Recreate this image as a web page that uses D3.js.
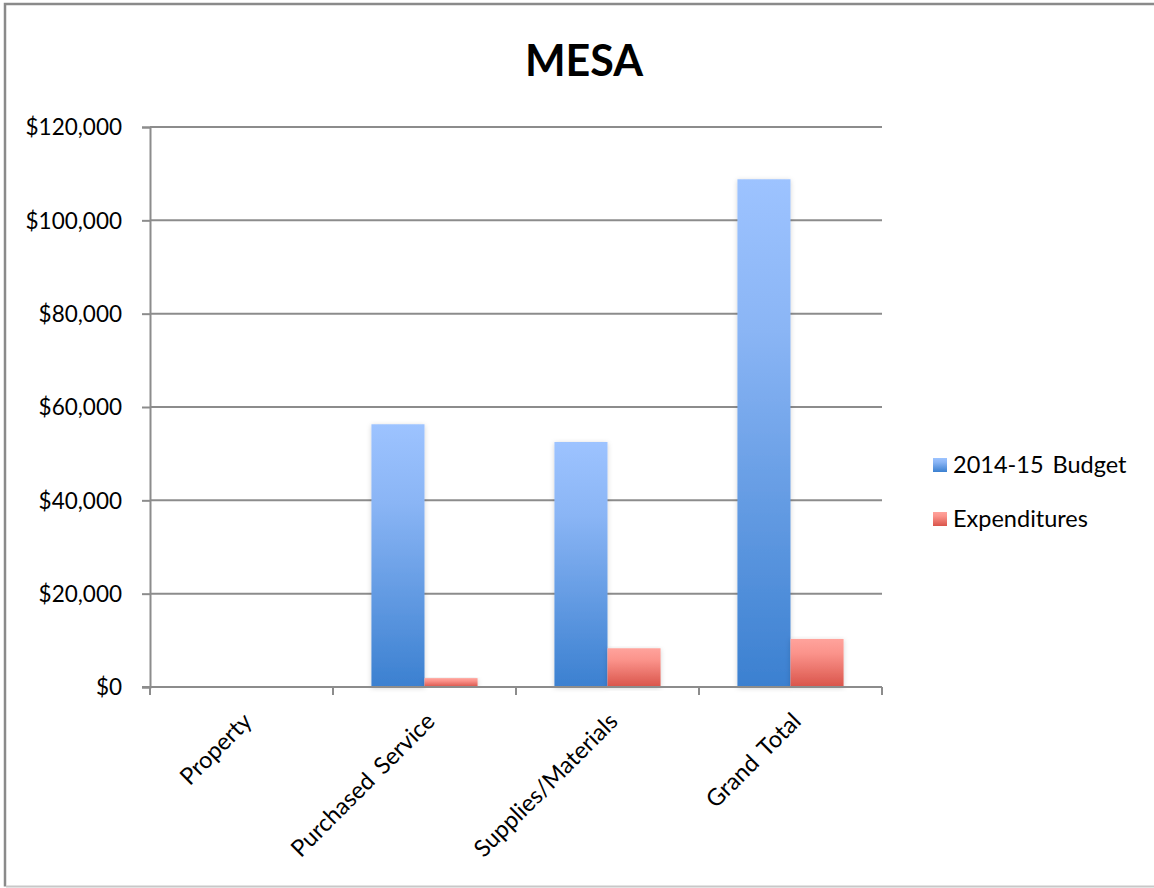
<!DOCTYPE html>
<html>
<head>
<meta charset="utf-8">
<script src="https://cdn.jsdelivr.net/npm/d3@7"></script>
<style>
  body { margin: 0; background: #fff; }
  svg text { font-family: Lato, "Open Sans", sans-serif; fill: #000; }
</style>
</head>
<body>
<div id="chart"></div>
<script>
// Chart data
const categories = ["Property", "Purchased Service", "Supplies/Materials", "Grand Total"];
const seriesNames = ["2014-15 Budget", "Expenditures"];
const budgetValues = [0, 56300, 52500, 108800];
const expenditureValues = [0, 1900, 8300, 10300];
const yTicks = [0, 20000, 40000, 60000, 80000, 100000, 120000];

const width = 1154, height = 888;
const margin = { left: 150, right: 272, top: 127, bottom: 201 };
const plotW = width - margin.left - margin.right;
const plotH = height - margin.top - margin.bottom;

const svg = d3.select("#chart").append("svg")
    .attr("width", width)
    .attr("height", height);

// Gradients for the bars (light top, darker bottom)
const defs = svg.append("defs");
const gradStops = [
    { id: "grad-budget", top: "#9dc3ff", mid: "#8ab5f5", bottom: "#3b80d0" },
    { id: "grad-exp", top: "#ffa39c", mid: "#fb938b", bottom: "#d9544a" }
];
gradStops.forEach(function (g) {
    const lg = defs.append("linearGradient")
        .attr("id", g.id)
        .attr("x1", 0).attr("y1", 0).attr("x2", 0).attr("y2", 1);
    lg.append("stop").attr("offset", "0%").attr("stop-color", g.top);
    lg.append("stop").attr("offset", "30%").attr("stop-color", g.mid);
    lg.append("stop").attr("offset", "100%").attr("stop-color", g.bottom);
});
// Soft shadow under the bars
const filt = defs.append("filter").attr("id", "shadow")
    .attr("x", "-20%").attr("y", "-5%").attr("width", "140%").attr("height", "115%");
filt.append("feDropShadow").attr("dx", 0).attr("dy", 1).attr("stdDeviation", 2.5)
    .attr("flood-color", "#000").attr("flood-opacity", 0.18);

// Outer frame (left, top, bottom edges)
svg.append("path")
    .attr("d", "M" + (width + 5) + ",4 H5 V886.5")
    .attr("fill", "none")
    .attr("stroke", "#8a8a8a")
    .attr("stroke-width", 2.5);
svg.append("line")
    .attr("x1", 6).attr("x2", width).attr("y1", 886.5).attr("y2", 886.5)
    .attr("stroke", "#c8c8c8").attr("stroke-width", 2);

// Title
svg.append("text")
    .attr("x", 584)
    .attr("y", 76)
    .attr("text-anchor", "middle")
    .style("font-size", "43px")
    .style("font-weight", "bold")
    .text("MESA");

const g = svg.append("g")
    .attr("transform", "translate(" + margin.left + "," + margin.top + ")");

const xScale = d3.scaleBand()
    .domain(categories)
    .range([0, plotW]);

const yScale = d3.scaleLinear()
    .domain([0, 120000])
    .range([plotH, 0]);

// Gridlines
g.append("g")
    .selectAll("line")
    .data(yTicks)
    .enter()
    .append("line")
    .attr("x1", 0)
    .attr("x2", plotW)
    .attr("y1", d => yScale(d))
    .attr("y2", d => yScale(d))
    .attr("stroke", "#8c8c8c")
    .attr("stroke-width", 2);

// Y axis
const yAxis = g.append("g")
    .call(d3.axisLeft(yScale)
        .tickValues(yTicks)
        .tickSize(8)
        .tickPadding(20)
        .tickFormat(d => "$" + d3.format(",")(d)));
yAxis.select(".domain").attr("stroke", "#8c8c8c").attr("stroke-width", 2);
yAxis.selectAll(".tick line").attr("stroke", "#8c8c8c").attr("stroke-width", 2);
yAxis.selectAll(".tick text")
    .style("font-size", "22.5px")
    .attr("dy", "0.35em");

// Bars
const bandW = xScale.bandwidth();
const barW = bandW * 0.29;
const groupW = barW * 2;
const series = [
    { name: seriesNames[0], values: budgetValues, fill: "url(#grad-budget)" },
    { name: seriesNames[1], values: expenditureValues, fill: "url(#grad-exp)" }
];

series.forEach(function (s, si) {
    g.append("g")
        .selectAll("rect")
        .data(categories)
        .enter()
        .append("rect")
        .attr("x", c => xScale(c) + (bandW - groupW) / 2 + si * barW)
        .attr("y", (c, i) => yScale(s.values[i]))
        .attr("width", barW)
        .attr("height", (c, i) => plotH - yScale(s.values[i]))
        .attr("fill", s.fill)
        .attr("filter", "url(#shadow)");
});

// X axis drawn over bars
const xTickPositions = d3.range(categories.length + 1).map(i => i * bandW);
const xAxis = g.append("g").attr("transform", "translate(0," + plotH + ")");
xAxis.append("line")
    .attr("x1", -8).attr("x2", plotW)
    .attr("stroke", "#8c8c8c").attr("stroke-width", 2);
xAxis.selectAll(".xtick")
    .data(xTickPositions)
    .enter()
    .append("line")
    .attr("x1", d => d).attr("x2", d => d)
    .attr("y1", 0).attr("y2", 8)
    .attr("stroke", "#8c8c8c").attr("stroke-width", 2);

// Rotated category labels
xAxis.selectAll(".xlabel")
    .data(categories)
    .enter()
    .append("text")
    .attr("transform", c => "translate(" + (xScale(c) + bandW / 2 + 6) + ",30) rotate(-45)")
    .attr("text-anchor", "end")
    .attr("dy", "0.35em")
    .style("font-size", "23.5px")
    .style("word-spacing", "4px")
    .text(c => c);

// Legend
const legend = svg.append("g").attr("transform", "translate(933,458)");
series.forEach(function (s, i) {
    const row = legend.append("g").attr("transform", "translate(0," + (i * 54) + ")");
    row.append("rect")
        .attr("width", 14).attr("height", 14)
        .attr("fill", s.fill);
    row.append("text")
        .attr("x", 20)
        .attr("y", 7)
        .attr("dy", "0.35em")
        .style("font-size", "23.5px")
        .style("word-spacing", "3px")
        .text(s.name);
});
</script>
</body>
</html>
